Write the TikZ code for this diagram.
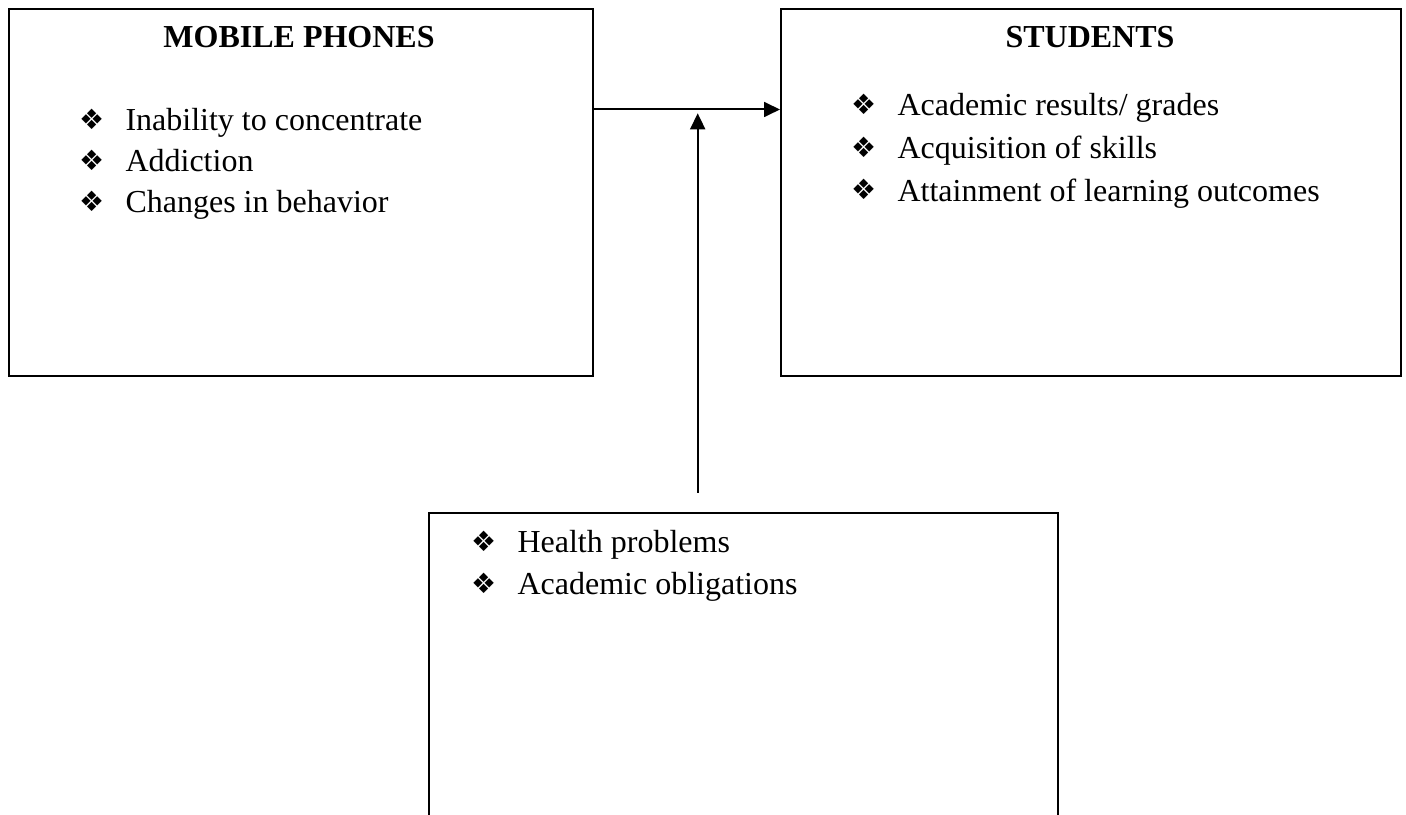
\documentclass[tikz,border=0pt]{standalone}
\usepackage{fontspec}
\setmainfont{Liberation Serif}
\newfontfamily\dejavu{DejaVu Sans}
\usetikzlibrary{arrows.meta}
\begin{document}
\begin{tikzpicture}[x=0.375pt,y=-0.375pt,
  box/.style={draw,line width=0.75pt,rectangle,inner sep=0pt,anchor=north west},
  item/.style={anchor=base west,inner sep=0pt,font=\fontsize{12}{14}\selectfont},
  bul/.style={anchor=base west,inner sep=0pt,font=\dejavu\fontsize{10.5}{11}\selectfont},
  head/.style={anchor=base,inner sep=0pt,font=\bfseries\fontsize{12}{14}\selectfont},
  conn/.style={line width=0.75pt,-{Triangle[length=6pt,width=5.6pt]}}]
\useasboundingbox (0,0) rectangle (1406,815);
\clip (0,0) rectangle (1406,815);
% boxes
\node[box,minimum width=219pt,minimum height=137.7pt] (mob) at (7.7,8.3) {};
\node[box,minimum width=232.6pt,minimum height=137.7pt] (stu) at (780,8.3) {};
\node[box,minimum width=235.9pt,minimum height=125pt] (mod) at (428,512.3) {};
% headings
\node[head] (mobh) at (299,48) {MOBILE PHONES};
\node[head] (stuh) at (1090,48) {STUDENTS};
% mobile phones items
\node[bul] (mb1) at (78.5,129.5) {❖};
\node[item] (mt1) at (125,131) {Inability to concentrate};
\node[bul] (mb2) at (78.5,170.5) {❖};
\node[item] (mt2) at (125,172) {Addiction};
\node[bul] (mb3) at (78.5,211.5) {❖};
\node[item] (mt3) at (125,213) {Changes in behavior};
% students items
\node[bul] (sb1) at (850.5,114.5) {❖};
\node[item] (st1) at (897,116) {Academic results/ grades};
\node[bul] (sb2) at (850.5,157.5) {❖};
\node[item] (st2) at (897,159) {Acquisition of skills};
\node[bul] (sb3) at (850.5,200) {❖};
\node[item] (st3) at (897,201.5) {Attainment of learning outcomes};
% moderator items
\node[bul] (db1) at (470.5,551.5) {❖};
\node[item] (dt1) at (517,553) {Health problems};
\node[bul] (db2) at (470.5,593.5) {❖};
\node[item] (dt2) at (517,595) {Academic obligations};
% connectors
\coordinate (hy) at (0,109.5);
\coordinate (vs) at (697.7,492.7);
\coordinate (ve) at (697.7,113.3);
\draw[conn] (mob.east |- hy) -- (stu.west |- hy);
\draw[conn] (vs) -- (ve);
\end{tikzpicture}
\end{document}
